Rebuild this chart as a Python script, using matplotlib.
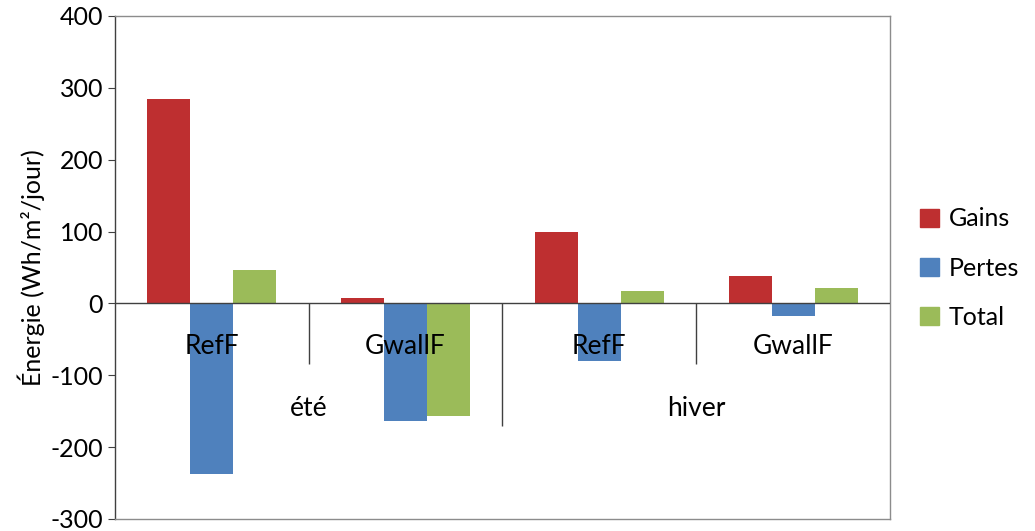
import numpy as np
import matplotlib
matplotlib.use('Agg')
from matplotlib import pyplot as plt
from matplotlib.patches import Patch

plt.rcParams['font.family'] = ['Lato', 'DejaVu Sans']
plt.rcParams['axes.unicode_minus'] = False

# energy balance per configuration, Wh/m2/day
seasons = ['été', 'hiver']
configs = ['RefF', 'GwallF', 'RefF', 'GwallF']
gains = [284, 8, 99, 38]
pertes = [-237, -164, -80, -17]
total = [46, -157, 17, 21]

series = [('Gains', gains, '#BE2F30'),
          ('Pertes', pertes, '#4F81BD'),
          ('Total', total, '#9BBB59')]


def main():
    fig = plt.figure(figsize=(10.35, 5.31), dpi=100)
    ax = fig.add_axes([0.111, 0.0226, 0.749, 0.9474])

    x = np.arange(len(configs))
    w = 1 / 4.5
    for k, (name, vals, col) in enumerate(series):
        ax.bar(x + (k - 1) * w, vals, width=w, color=col, label=name, zorder=2)

    ax.set_xlim(-0.5, len(configs) - 0.5)
    ax.set_ylim(-300, 400)
    ax.set_yticks(range(-300, 401, 100))
    ax.tick_params(axis='y', labelsize=18, direction='out', length=5, color='#404040')
    ax.set_xticks([])
    ax.set_ylabel('Énergie (Wh/m²/jour)', fontsize=18, labelpad=4)

    for s in ax.spines.values():
        s.set_color('#8c8c8c')
        s.set_linewidth(1)
    ax.spines['left'].set_color('#404040')

    # zero line plus the two-level category axis
    ax.axhline(0, color='#404040', lw=1, zorder=3)
    for i, c in enumerate(configs):
        ax.text(i, -60, c, ha='center', va='center', fontsize=19, zorder=4)
    ax.vlines([0.5, 2.5], -85, 0, color='#404040', lw=1, zorder=3)
    ax.vlines([1.5], -171, 0, color='#404040', lw=1, zorder=3)
    for j, s in enumerate(seasons):
        ax.text(2 * j + 0.5, -146, s, ha='center', va='center', fontsize=19, zorder=4)

    handles = [Patch(color=col, label=name) for name, _, col in series]
    fig.legend(handles=handles, loc='center left', bbox_to_anchor=(0.867, 0.495),
               frameon=False, fontsize=18, handlelength=0.75, handleheight=0.75,
               handletextpad=0.4, labelspacing=1.05)

    fig.savefig('out.png', dpi=100)


if __name__ == '__main__':
    main()
